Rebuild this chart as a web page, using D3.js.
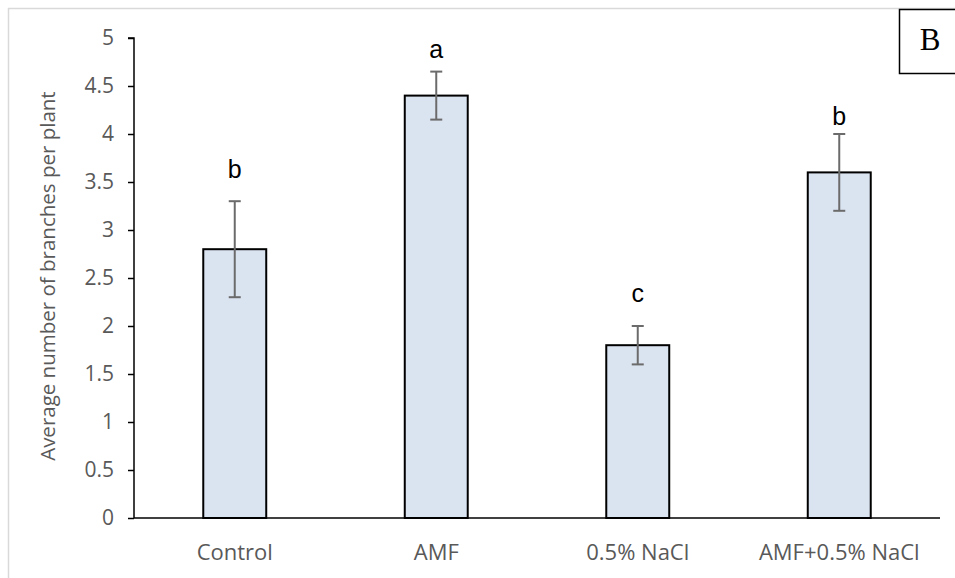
<!DOCTYPE html>
<html>
<head>
<meta charset="utf-8">
<script src="https://cdn.jsdelivr.net/npm/d3@7"></script>
<style>
  body { margin: 0; background: #fff; }
  text { font-family: "Open Sans", sans-serif; }
</style>
</head>
<body>
<svg id="chart" width="955" height="578"></svg>
<script>
// data
var treatments = ["Control", "AMF", "0.5% NaCl", "AMF+0.5% NaCl"];
var means = [2.8, 4.4, 1.8, 3.6];
var errors = [0.5, 0.25, 0.2, 0.4];
var letters = ["b", "a", "c", "b"];
var letterAt = [3.54, 4.79, 2.25, 4.09];
var yTicks = [0, 0.5, 1, 1.5, 2, 2.5, 3, 3.5, 4, 4.5, 5];

var svg = d3.select("#chart");

// light outer frame
svg.append("rect")
   .attr("x", 8.5).attr("y", 8.5)
   .attr("width", 1000).attr("height", 600)
   .attr("fill", "none")
   .attr("stroke", "#d9d9d9")
   .attr("stroke-width", 1.5);

var x = d3.scaleBand()
          .domain(treatments)
          .range([134, 940])
          .paddingInner(0.6875)
          .paddingOuter(0.34375);

var y = d3.scaleLinear()
          .domain([0, 5])
          .range([518, 38]);

// y axis
var yAxis = svg.append("g")
   .attr("transform", "translate(134,0)")
   .call(d3.axisLeft(y).tickValues(yTicks).tickSize(6).tickPadding(14).tickFormat(d3.format("")));
yAxis.selectAll("path, line").attr("stroke", "#000").attr("stroke-width", 1.5);
yAxis.select(".domain").attr("d", "M-6,38H0V518");
yAxis.selectAll("text").attr("fill", "#595959").style("font-size", "21px");

svg.append("text")
   .attr("transform", "translate(55," + y(2.52) + ") rotate(-90)")
   .attr("text-anchor", "middle")
   .attr("fill", "#595959")
   .style("font-size", "20.5px")
   .text("Average number of branches per plant");

// bars
var bars = svg.selectAll("g.bar")
              .data(treatments)
              .enter().append("g")
              .attr("class", "bar");

bars.append("rect")
    .attr("x", function(d) {return x(d);})
    .attr("y", function(d, i) {return y(means[i]);})
    .attr("width", x.bandwidth())
    .attr("height", function(d, i) {return y(0) - y(means[i]);})
    .attr("fill", "#dae3f0")
    .attr("stroke", "#000")
    .attr("stroke-width", 2);

// error bars
bars.append("line")
    .attr("x1", function(d) {return x(d) + x.bandwidth() / 2;})
    .attr("x2", function(d) {return x(d) + x.bandwidth() / 2;})
    .attr("y1", function(d, i) {return y(means[i] - errors[i]);})
    .attr("y2", function(d, i) {return y(means[i] + errors[i]);})
    .attr("stroke", "#6b6b6b")
    .attr("stroke-width", 2);

[-1, 1].forEach(function(s) {
  bars.append("line")
      .attr("x1", function(d) {return x(d) + x.bandwidth() / 2 - 6;})
      .attr("x2", function(d) {return x(d) + x.bandwidth() / 2 + 6;})
      .attr("y1", function(d, i) {return y(means[i] + s * errors[i]);})
      .attr("y2", function(d, i) {return y(means[i] + s * errors[i]);})
      .attr("stroke", "#6b6b6b")
      .attr("stroke-width", 2);
});

// significance letters
bars.append("text")
    .attr("x", function(d) {return x(d) + x.bandwidth() / 2;})
    .attr("y", function(d, i) {return y(letterAt[i]);})
    .attr("text-anchor", "middle")
    .style("font-family", "'Liberation Sans', Arial, sans-serif")
    .style("font-size", "25px")
    .attr("fill", "#000")
    .text(function(d, i) {return letters[i];});

// x axis
var xAxis = svg.append("g")
   .attr("transform", "translate(0,518)")
   .call(d3.axisBottom(x).tickSize(0).tickPadding(26));
xAxis.select(".domain").attr("stroke", "#000").attr("stroke-width", 1.5).attr("d", "M134,0H940");
xAxis.selectAll("text").attr("fill", "#595959").style("font-size", "22px");

// panel label box
svg.append("rect")
   .attr("x", 899.5).attr("y", 9.5)
   .attr("width", 80).attr("height", 64)
   .attr("fill", "#fff")
   .attr("stroke", "#000")
   .attr("stroke-width", 1.5);
svg.append("text")
   .attr("x", 930).attr("y", 50)
   .attr("text-anchor", "middle")
   .style("font-family", "'Liberation Serif', 'Times New Roman', serif")
   .style("font-size", "31px")
   .attr("fill", "#000")
   .text("B");
</script>
</body>
</html>
